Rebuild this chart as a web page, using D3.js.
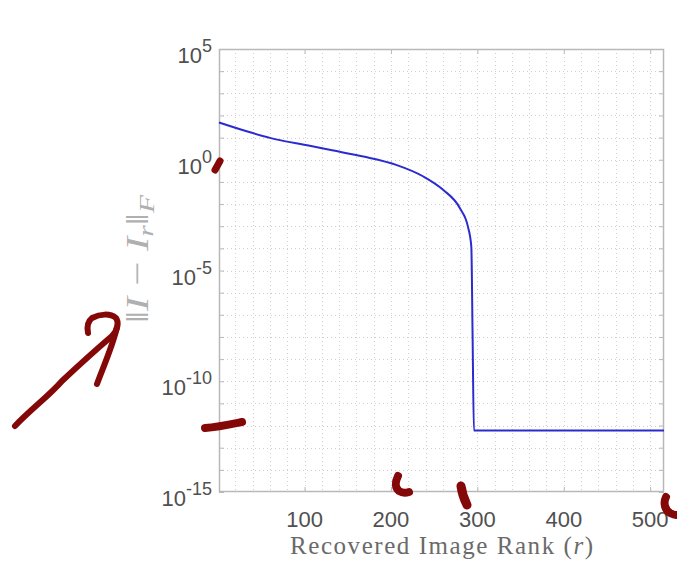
<!DOCTYPE html>
<html><head><meta charset="utf-8">
<script src="https://cdn.jsdelivr.net/npm/d3@7"></script>
<style>
html,body{margin:0;padding:0;background:#fff;}
svg{display:block;}
</style>
</head><body>
<script>
// ---- data ----
const ranks  = [1, 40, 67, 106, 129, 168, 206, 237, 260, 280, 289, 293, 294.5, 296, 516];
const errors = [48, 16, 8.3, 4.3, 2.8, 1.4, 0.59, 0.18, 0.045, 0.0063, 0.00098, 1.2e-4, 1e-8, 6e-13, 6e-13];
const xTicks = [100, 200, 300, 400, 500];
const xMinor = [20,40,60,80,100,120,140,160,180,200,220,240,260,280,300,320,340,360,380,400,420,440,460,480,500];
const yTickExps = [5, 0, -5, -10, -15];
const yDecades = d3.range(-15, 6);
const xDomain = [1, 516];
const yDomain = [1e-15, 1e5];

const W = 677, H = 568;
const L = 219, R = 664, T = 49, B = 492;

const svg = d3.select("body").append("svg").attr("width", W).attr("height", H);

const x = d3.scaleLinear().domain(xDomain).range([L, R]);
const y = d3.scaleLog().domain(yDomain).range([B, T]);

// grid
const grid = svg.append("g").attr("stroke", "#cfcfcf").attr("stroke-width", 1).attr("stroke-dasharray", "1,3");
grid.selectAll("line.h").data(yDecades.slice(1, -1)).join("line")
  .attr("x1", L).attr("x2", R)
  .attr("y1", d => Math.round(y(Math.pow(10, d))) + 0.5)
  .attr("y2", d => Math.round(y(Math.pow(10, d))) + 0.5);
grid.selectAll("line.v").data(xMinor).join("line")
  .attr("y1", T).attr("y2", B)
  .attr("x1", d => Math.round(x(d)) + 0.5)
  .attr("x2", d => Math.round(x(d)) + 0.5);

// axes (ticks inward)
const axisColor = "#b8b8b8";
function styleAxis(g) {
  g.select(".domain").remove();
  g.selectAll(".tick line").attr("stroke", axisColor);
  g.selectAll(".tick text").remove();
}
const yTickVals = yDecades.map(d => Math.pow(10, d));
svg.append("g").attr("transform", `translate(${L},0)`)
  .call(d3.axisLeft(y).tickValues(yTickVals).tickSize(-5)).call(styleAxis);
svg.append("g").attr("transform", `translate(${R},0)`)
  .call(d3.axisRight(y).tickValues(yTickVals).tickSize(-5)).call(styleAxis);
svg.append("g").attr("transform", `translate(0,${B})`)
  .call(d3.axisBottom(x).tickValues(xTicks).tickSize(-5)).call(styleAxis);
svg.append("g").attr("transform", `translate(0,${T})`)
  .call(d3.axisTop(x).tickValues(xTicks).tickSize(-5)).call(styleAxis);

// box
svg.append("rect").attr("x", L + 0.5).attr("y", T + 0.5)
  .attr("width", R - L - 1).attr("height", B - T - 1)
  .attr("fill", "none").attr("stroke", axisColor).attr("stroke-width", 1.5);

// x tick labels
svg.append("g").selectAll("text").data(xTicks).join("text")
  .attr("x", d => x(d)).attr("y", 527)
  .attr("text-anchor", "middle")
  .attr("font-family", "Liberation Sans, Arial, sans-serif")
  .attr("font-size", 22).attr("fill", "#505050")
  .text(d => d);

// y tick labels with superscripts
const yl = svg.append("g").attr("font-family", "Liberation Sans, Arial, sans-serif").attr("fill", "#505050");
yTickExps.forEach(e => {
  const yy = y(Math.pow(10, e));
  const t = yl.append("text").attr("x", 212).attr("y", yy + 14).attr("text-anchor", "end").attr("font-size", 22);
  t.append("tspan").text("10");
  t.append("tspan").attr("dy", -11).attr("font-size", 18).text(e < 0 ? "-" + (-e) : String(e));
});

// line
const line = d3.line()
  .x((d, i) => x(ranks[i]))
  .y(d => y(d))
  .curve(d3.curveMonotoneX);
svg.append("path").datum(errors)
  .attr("d", line)
  .attr("fill", "none")
  .attr("stroke", "#2b2bd0")
  .attr("stroke-width", 2);

// x label
svg.append("text")
  .attr("x", 441.5).attr("y", 554)
  .attr("text-anchor", "middle")
  .attr("font-family", "Liberation Serif, Times New Roman, serif")
  .attr("font-size", 25).attr("fill", "#6a6a6a")
  .attr("textLength", 303).attr("lengthAdjust", "spacing")
  .html('Recovered Image Rank (<tspan font-style="italic">r</tspan>)');

// y label
const ylab = svg.append("text")
  .attr("transform", "translate(148,259) rotate(-90)")
  .attr("text-anchor", "middle")
  .attr("font-family", "Liberation Serif, Times New Roman, serif")
  .attr("font-size", 32).attr("fill", "#b0b0b0")
  .attr("textLength", 128).attr("lengthAdjust", "spacingAndGlyphs");
ylab.append("tspan").text("\u2016");
ylab.append("tspan").attr("font-style", "italic").text("I");
ylab.append("tspan").text(" \u2212 ");
ylab.append("tspan").attr("font-style", "italic").text("I");
ylab.append("tspan").attr("font-style", "italic").attr("font-size", 22).attr("dy", 5).text("r");
ylab.append("tspan").attr("dy", -5).text("\u2016");
ylab.append("tspan").attr("font-style", "italic").attr("font-size", 22).attr("dy", 6).text("F");

// hand-drawn red annotations
const ann = svg.append("g").attr("fill", "none").attr("stroke", "#850808")
  .attr("stroke-linecap", "round").attr("stroke-linejoin", "round");
const strokes = [
  {w: 6, d: "M15,426 C30,410 50,395 62,381 C78,366 98,348 112,336 C118,330 119,322 116,318 C110,313 100,314 92,318 C87,322 87,328 88,333"},
  {w: 6, d: "M117,327 C113,345 104,365 97,384"},
  {w: 7, d: "M215,170 L220,161"},
  {w: 8, d: "M205,428 C218,427 232,424 242,422"},
  {w: 8, d: "M398,476 C395,482 395,488 399,491 C402,493 406,493 409,492"},
  {w: 9, d: "M461,486 C462,493 464,499 467,505"},
  {w: 8, d: "M666,497 C663,503 665,510 670,513 C672,514 674,515 676,515"}
];
ann.selectAll("path").data(strokes).join("path")
  .attr("d", d => d.d).attr("stroke-width", d => d.w);
</script>
</body></html>
